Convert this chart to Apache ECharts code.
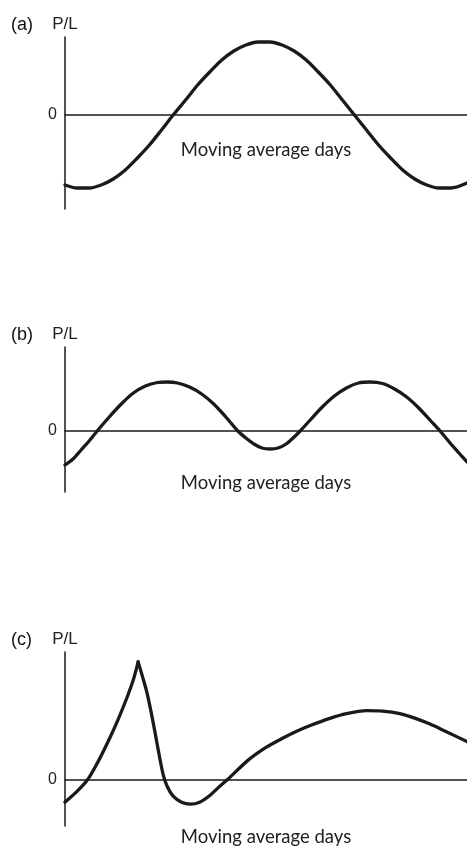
<!DOCTYPE html>
<html>
<head>
    <meta charset="utf-8">
    <title>P/L vs moving average days</title>
    <script src="https://cdn.jsdelivr.net/npm/echarts@6/dist/echarts.min.js"></script>
    <style>
        html, body { margin: 0; padding: 0; background: #fff; }
        #chart { width: 467px; height: 848px; }
    </style>
</head>
<body>
<div id="chart"></div>
<script>
    // panel labels and axis names
    var panelLabels = ['(a)', '(b)', '(c)'];
    var yName = 'P/L';
    var xName = 'Moving average days';

    // (a) one long cycle
    var daysA = [0, 3, 6, 9, 12, 15, 18, 21, 24, 26.9, 30, 33, 36, 39, 42, 45, 48, 51, 54, 57, 60, 63, 66, 69, 72, 75, 78, 81, 84, 87, 90, 93, 96, 100];
    var plA = [-70, -73, -73, -70, -64, -55, -43, -30, -15, 0, 15, 30, 43, 55, 64, 70, 73, 73, 70, 64, 55, 43, 30, 15, 0, -15, -30, -43, -55, -64, -70, -73, -73, -68];

    // (b) two humps
    var daysB = [0, 2, 4, 6, 8, 11, 14, 17, 20, 23, 25.4, 28, 31, 34, 37, 40, 43, 45, 47, 49, 51, 53, 55, 57, 58.5, 61, 64, 67, 70, 73, 75.9, 79, 82, 85, 88, 91, 93.3, 96, 98, 100];
    var plB = [-34, -28, -19, -10, 0, 14, 27, 38, 45, 48.5, 49, 48, 44, 37, 27, 14, 0, -7, -13, -17, -18, -17, -13, -6, 0, 11, 24, 35, 43, 48, 49, 47.5, 42, 34, 23, 10, 0, -13, -22, -31];

    // (c) sharp spike then a broad hump (two pieces so the spike stays sharp)
    var daysC1 = [0, 2.8, 5.7, 8.4, 11.2, 13.3, 15.4, 17, 18.2];
    var plC1 = [-23, -13, 0, 19, 42, 61, 82, 100, 118];
    var daysC2 = [18.2, 19.3, 20.4, 21.4, 22.4, 23.4, 24.4, 25.4, 26.9, 29, 31.1, 33.5, 36.1, 38.5, 40.5, 45.5, 50, 54, 57.5, 61, 65.7, 70, 75.1, 79, 83.3, 87, 90.8, 95, 100];
    var plC2 = [118, 103, 87, 68, 47, 25, 5, -7, -17, -23, -25, -23, -16, -7, 0, 19, 32, 41, 48, 54, 61, 66, 69, 68.5, 66, 61.5, 55.5, 47.5, 38];

    function pairs(xs, ys) {
        return xs.map(function (x, i) { return [x, ys[i]]; });
    }

    var ink = '#1a1a1a';
    // grid boxes follow the axis lines of the picture; gap puts the x name under the zero line
    var boxes = [
        {top: 37, height: 172, min: -94, max: 78, gap: -68},
        {top: 347, height: 145, min: -61, max: 84, gap: -18},
        {top: 652, height: 175, min: -47, max: 128, gap: 2}
    ];

    var grids = [], xAxes = [], yAxes = [], titles = [];
    boxes.forEach(function (b, i) {
        grids.push({left: 65, right: 0, top: b.top, height: b.height});
        xAxes.push({
            type: 'value', gridIndex: i, min: 0, max: 100,
            name: xName, nameLocation: 'middle', nameGap: b.gap,
            nameTextStyle: {fontFamily: 'Lato', fontSize: 18.5, color: '#222'},
            axisLine: {onZero: true, lineStyle: {color: ink, width: 1.5}},
            axisTick: {show: false}, axisLabel: {show: false}, splitLine: {show: false}
        });
        yAxes.push({
            type: 'value', gridIndex: i, min: b.min, max: b.max, interval: -b.min,
            name: yName, nameLocation: 'end', nameGap: 4,
            nameTextStyle: {fontFamily: 'Liberation Sans', fontSize: 17, color: '#222', align: 'center'},
            axisLine: {show: true, onZero: false, lineStyle: {color: ink, width: 1.5}},
            axisTick: {show: false}, splitLine: {show: false},
            axisLabel: {
                margin: 8, fontFamily: 'Liberation Sans', fontSize: 16, color: '#222',
                showMinLabel: true, showMaxLabel: true,
                formatter: function (v) { return v === 0 ? '0' : ''; }
            }
        });
        titles.push({
            text: panelLabels[i], left: 6, top: b.top - 26,
            textStyle: {fontFamily: 'Liberation Sans', fontSize: 18, fontWeight: 'normal', color: '#111'}
        });
    });

    function curve(idx, data) {
        return {
            type: 'line', xAxisIndex: idx, yAxisIndex: idx, data: data,
            smooth: 0.3, showSymbol: false, silent: true,
            lineStyle: {color: ink, width: 3.3, cap: 'round', join: 'round'}
        };
    }

    var myChart = echarts.init(document.getElementById('chart'));
    var option = {
        animation: false,
        title: titles,
        grid: grids,
        xAxis: xAxes,
        yAxis: yAxes,
        series: [
            curve(0, pairs(daysA, plA)),
            curve(1, pairs(daysB, plB)),
            curve(2, pairs(daysC1, plC1)),
            curve(2, pairs(daysC2, plC2))
        ]
    };
    myChart.setOption(option);
</script>
</body>
</html>
